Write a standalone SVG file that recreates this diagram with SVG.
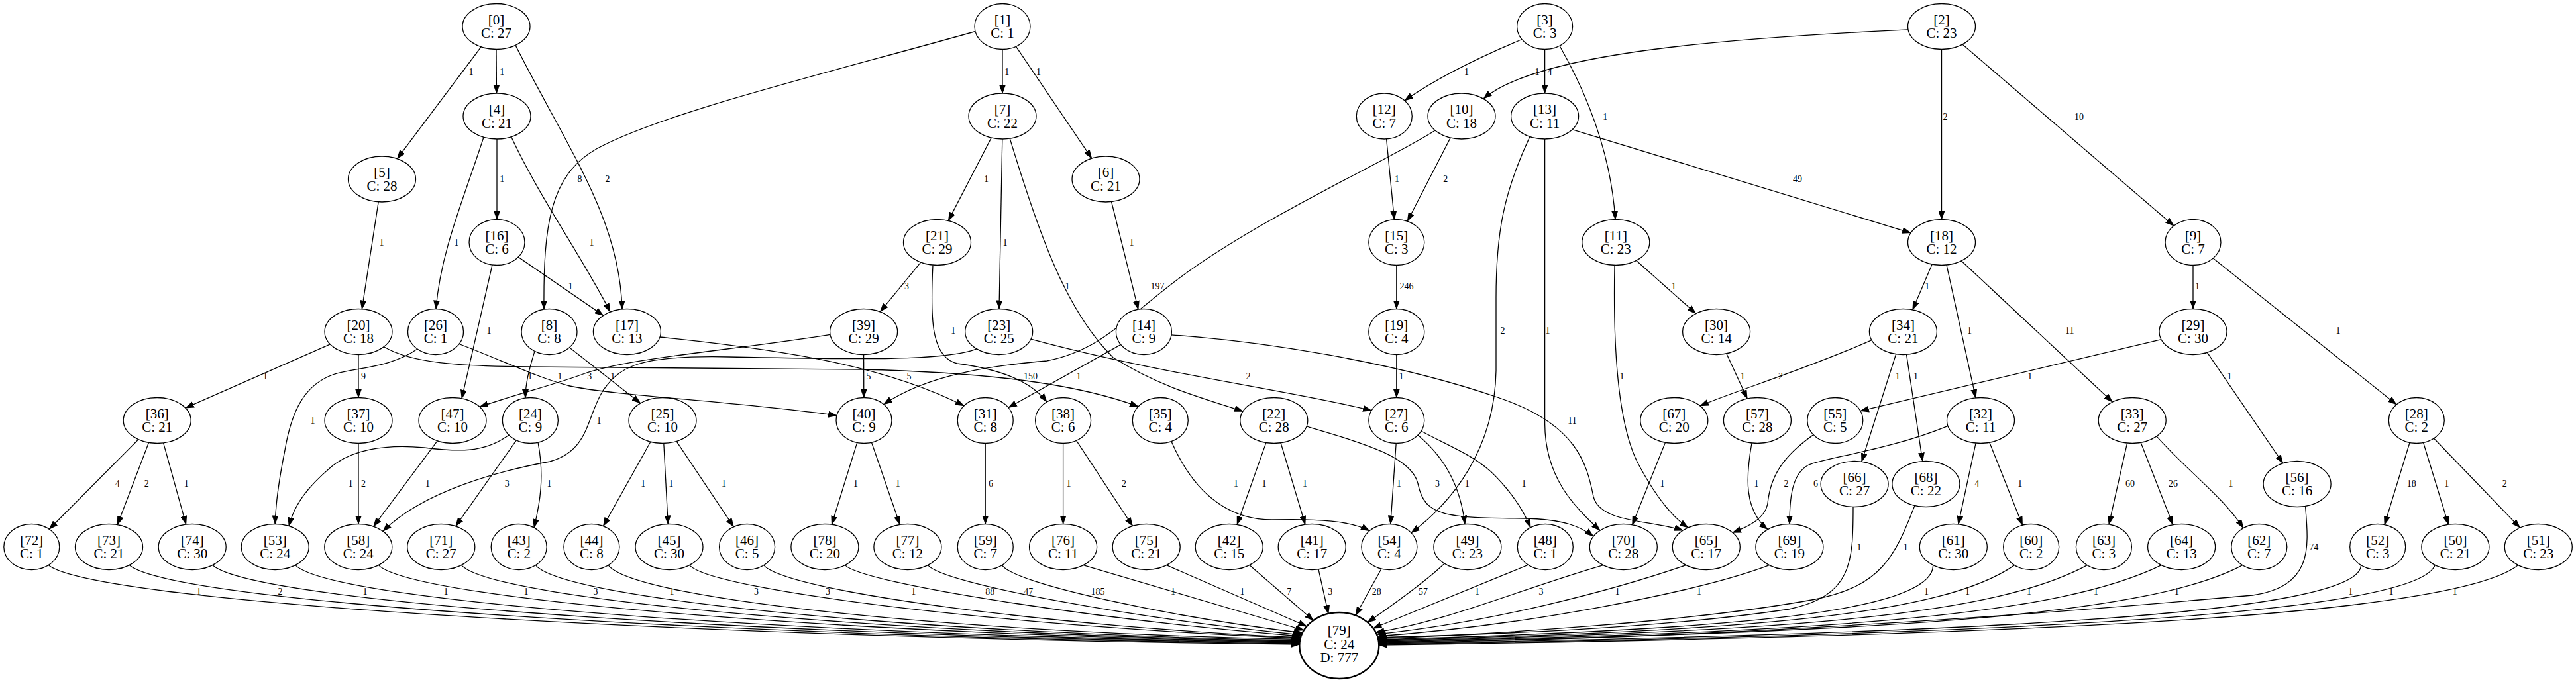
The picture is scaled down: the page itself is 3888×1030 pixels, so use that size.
<svg xmlns="http://www.w3.org/2000/svg" width="3888" height="1030" viewBox="0 0 3888 1030">
<defs>
<marker id="arr" markerUnits="userSpaceOnUse" markerWidth="14" markerHeight="10" refX="13" refY="5" orient="auto"><path d="M0,0 L14,5 L0,10 z" fill="#000"/></marker>
<style>
.n ellipse{fill:#fff;stroke:#000;stroke-width:1.3}
.n text{font-family:"Liberation Serif","Times New Roman",serif;font-size:21px;text-anchor:middle;fill:#000;opacity:0.999}
#edges path{fill:none;stroke:#000;stroke-width:1.3;marker-end:url(#arr)}
#edges text{font-family:"Liberation Serif","Times New Roman",serif;font-size:14px;text-anchor:middle;fill:#000;opacity:0.999}
</style>
</defs>
<rect width="3888" height="1030" fill="#fff"/>
<g id="edges">
<g id="e0_5"><path d="M726,71 L599.5,239.7"/><text x="711" y="113">1</text></g>
<g id="e0_4"><path d="M749,74.5 L749.5,141"/><text x="757.7" y="113">1</text></g>
<g id="e0_17"><path d="M778,68.4 C860,230 935,330 939,467"/><text x="917" y="275">2</text></g>
<g id="e1_8"><path d="M1472,47.5 C1250,110 1000,170 900,225 C830,265 820,340 821,467"/><text x="875" y="275">8</text></g>
<g id="e1_7"><path d="M1513,74.5 L1513,141"/><text x="1519.8" y="113">1</text></g>
<g id="e1_6"><path d="M1533.4,70.2 L1647.7,239.1"/><text x="1567.6" y="113">1</text></g>
<g id="e3_12"><path d="M2297,59.5 C2260,75 2180,110 2120,152"/><text x="2213.6" y="113">1</text></g>
<g id="e3_13"><path d="M2331.6,74.5 L2331.6,141"/><text x="2339" y="113">4</text></g>
<g id="e3_11"><path d="M2354,69.2 C2400,150 2432,240 2438,331.5"/><text x="2422.8" y="180.6">1</text></g>
<g id="e2_10"><path d="M2880,44.8 C2600,58 2320,80 2239,149.2"/><text x="2320" y="113">1</text></g>
<g id="e2_18"><path d="M2930.5,74.5 L2930.5,331.5"/><text x="2936" y="180.6">2</text></g>
<g id="e2_9"><path d="M2962,67.1 L3281,341.1"/><text x="3138" y="180.6">10</text></g>
<g id="e4_16"><path d="M750,210 L750,331.5"/><text x="757.7" y="275">1</text></g>
<g id="e4_26"><path d="M730,207.2 C700,300 665,380 658,466.5"/><text x="689" y="371">1</text></g>
<g id="e4_17"><path d="M771.7,206.7 C815,300 880,390 921,471"/><text x="893" y="371">1</text></g>
<g id="e7_21"><path d="M1496.2,208.1 L1431.3,333.4"/><text x="1488.5" y="275">1</text></g>
<g id="e7_23"><path d="M1512.8,210 L1508,466.5"/><text x="1517" y="371">1</text></g>
<g id="e7_22"><path d="M1524.2,209.2 C1570,360 1610,470 1680,540 C1760,590 1830,605 1876,621.3"/><text x="1611" y="437">1</text></g>
<g id="e6_14"><path d="M1677.5,304.5 L1718,467.2"/><text x="1708" y="371">1</text></g>
<g id="e12_15"><path d="M2092.6,209.9 L2104.5,331.6"/><text x="2108.4" y="275">1</text></g>
<g id="e10_15"><path d="M2189.2,208.1 L2124.2,334.2"/><text x="2181.8" y="275">2</text></g>
<g id="e10_40"><path d="M2166,197 C2100,240 1900,330 1780,420 C1700,480 1660,530 1580,545 C1500,552 1400,565 1334,610.8"/><text x="1747" y="437">197</text></g>
<g id="e13_18"><path d="M2373,195.6 Q2520,240 2884,351.8"/><text x="2713" y="275">49</text></g>
<g id="e13_54"><path d="M2309,206.4 C2270,290 2258,350 2258,450 L2258,560 C2256,680 2190,760 2130,804.7"/><text x="2268" y="504">2</text></g>
<g id="e13_70"><path d="M2331.6,210 L2331.6,640 C2332,720 2375,765 2415,801"/><text x="2336" y="504">1</text></g>
<g id="e5_20"><path d="M571.2,304.8 L546.3,466.7"/><text x="576" y="371">1</text></g>
<g id="e16_17"><path d="M782.2,388.1 L910.6,476.4"/><text x="861" y="437">1</text></g>
<g id="e16_47"><path d="M743,400 L697,601.8"/><text x="738" y="504">1</text></g>
<g id="e21_39"><path d="M1389.7,396.2 L1328.4,470.8"/><text x="1368.6" y="437">3</text></g>
<g id="e21_38"><path d="M1408,400.3 C1404,480 1405,540 1445,549 C1510,558 1555,575 1580,607"/><text x="1438.8" y="504">1</text></g>
<g id="e15_19"><path d="M2107.8,400.5 L2107.8,466.5"/><text x="2123" y="437">246</text></g>
<g id="e11_30"><path d="M2469.7,393.5 L2559.7,473.5"/><text x="2526" y="437">1</text></g>
<g id="e11_65"><path d="M2437,400.5 C2435,500 2438,640 2475,705 C2505,760 2530,785 2548,796.9"/><text x="2448" y="572.6">1</text></g>
<g id="e18_34"><path d="M2916.2,399.1 L2886.7,467.9"/><text x="2908.8" y="437">1</text></g>
<g id="e18_32"><path d="M2938,400.1 L2982,600.9"/><text x="2972.6" y="504">1</text></g>
<g id="e18_33"><path d="M2960.4,394 L3188.3,607"/><text x="3123.7" y="504">11</text></g>
<g id="e9_29"><path d="M3310,400.5 L3310,466.5"/><text x="3316.5" y="437">1</text></g>
<g id="e9_28"><path d="M3340.2,390 L3617.1,611"/><text x="3529" y="504">1</text></g>
<g id="e20_36"><path d="M498.3,519.8 L279.9,616.2"/><text x="400.5" y="572.6">1</text></g>
<g id="e20_37"><path d="M541,535.5 L541,600.5"/><text x="548.5" y="572.6">9</text></g>
<g id="e20_35"><path d="M579.4,523.7 C620,548 690,553 800,554 L1300,558 C1520,563 1640,585 1718,614"/><text x="1555.5" y="572.6">150</text></g>
<g id="e26_40"><path d="M693,519.5 C760,545 810,570 860,583 C930,598 1100,605 1263,627.5"/><text x="845" y="572.6">1</text></g>
<g id="e26_53"><path d="M630,527 C590,555 540,555 505,565 C460,580 440,620 430,680 C420,730 416,760 415.2,791.5"/><text x="472" y="639.5">1</text></g>
<g id="e8_24"><path d="M807,530.4 C798,560 793,580 793,601"/><text x="800" y="572.6">1</text></g>
<g id="e8_25"><path d="M859.4,524.8 L966.7,608.9"/><text x="924.7" y="572.6">1</text></g>
<g id="e17_31"><path d="M996,509 C1200,530 1340,555 1455,612.9"/><text x="1372" y="572.6">5</text></g>
<g id="e39_47"><path d="M1253,505.3 C1100,530 950,540 880,565 C840,580 780,595 724,614.5"/><text x="889.7" y="572.6">3</text></g>
<g id="e39_40"><path d="M1303.6,535.5 L1303.8,600.5"/><text x="1311" y="572.6">5</text></g>
<g id="e23_58"><path d="M1474,526.9 C1430,545 1300,543 1100,539 C960,536 935,555 910,590 C885,630 890,680 830,697 C760,710 640,740 578,802.4"/><text x="904" y="639.5">1</text></g>
<g id="e23_27"><path d="M1556,512.1 C1750,565 1950,590 2070,620"/><text x="1884" y="572.6">2</text></g>
<g id="e14_31"><path d="M1691.7,520.4 L1521.9,615.6"/><text x="1628" y="572.6">1</text></g>
<g id="e14_65"><path d="M1768,505.8 C1900,515 2100,545 2260,600 C2380,640 2395,700 2405,750 C2415,790 2490,785 2540,801.1"/><text x="2373" y="639.5">11</text></g>
<g id="e19_27"><path d="M2107.8,535.5 L2107.8,600.5"/><text x="2115" y="572.6">1</text></g>
<g id="e30_57"><path d="M2605.8,533.9 L2637.2,602.1"/><text x="2630" y="572.6">1</text></g>
<g id="e34_67"><path d="M2825,513.7 C2720,560 2620,590 2566,612.9"/><text x="2687.5" y="572.6">2</text></g>
<g id="e34_66"><path d="M2861.7,534.7 L2809.8,697.3"/><text x="2864" y="572.6">1</text></g>
<g id="e34_68"><path d="M2877.5,535.3 L2901.8,696.7"/><text x="2891.6" y="572.6">1</text></g>
<g id="e29_55"><path d="M3262,512.7 L2808,620.6"/><text x="3063.8" y="572.6">1</text></g>
<g id="e29_56"><path d="M3331.4,532.3 L3445.7,699.7"/><text x="3365" y="572.6">1</text></g>
<g id="e36_72"><path d="M208.8,663.7 L74.3,799.3"/><text x="177.3" y="735">4</text></g>
<g id="e36_73"><path d="M224.5,668.4 L177.2,792.6"/><text x="221.3" y="735">2</text></g>
<g id="e36_74"><path d="M246.6,668.9 L280.8,792.1"/><text x="281.3" y="735">1</text></g>
<g id="e37_58"><path d="M541,669.5 L541,791.5"/><text x="548.5" y="735">2</text></g>
<g id="e47_58"><path d="M660.1,665.8 L563.7,795.2"/><text x="645.4" y="735">1</text></g>
<g id="e24_53"><path d="M768,656.9 C730,685 690,682 640,676 C580,670 530,680 500,705 C465,735 445,760 436,794.5"/><text x="529.3" y="735">1</text></g>
<g id="e24_71"><path d="M779.4,664.9 L687.7,794.9"/><text x="765.3" y="735">3</text></g>
<g id="e24_43"><path d="M812,668.2 C822,720 815,760 806,797"/><text x="829" y="735">1</text></g>
<g id="e25_44"><path d="M981.9,667.3 L910.5,794.7"/><text x="970.7" y="735">1</text></g>
<g id="e25_45"><path d="M1001.8,669.5 L1008.2,791.5"/><text x="1012.8" y="735">1</text></g>
<g id="e25_46"><path d="M1021,666.4 L1107.4,795.7"/><text x="1092.5" y="735">1</text></g>
<g id="e40_78"><path d="M1293.7,668.4 L1255.3,792.2"/><text x="1291.5" y="735">1</text></g>
<g id="e40_77"><path d="M1315.5,668.2 L1358.3,792.4"/><text x="1355.2" y="735">1</text></g>
<g id="e31_59"><path d="M1487.2,669.5 L1487.2,791.5"/><text x="1495.5" y="735">6</text></g>
<g id="e38_76"><path d="M1604.6,669.5 L1604.6,791.5"/><text x="1612.9" y="735">1</text></g>
<g id="e38_75"><path d="M1624.6,665.4 L1709.5,794.5"/><text x="1696.4" y="735">2</text></g>
<g id="e35_54"><path d="M1768,666.7 C1800,740 1850,785 1920,785 C1990,783 2040,787 2067,801.8"/><text x="1865.4" y="735">1</text></g>
<g id="e22_42"><path d="M1910.9,668.6 L1867.1,792.4"/><text x="1908" y="735">1</text></g>
<g id="e22_41"><path d="M1933,668.8 L1970,792.2"/><text x="1969.4" y="735">1</text></g>
<g id="e22_70"><path d="M1972,644 C2060,670 2130,690 2140,730 C2150,780 2180,782 2300,783 C2360,784 2385,795 2405,810"/><text x="2169.6" y="735">3</text></g>
<g id="e27_54"><path d="M2107.2,669.5 L2098.8,791.5"/><text x="2111.6" y="735">1</text></g>
<g id="e27_49"><path d="M2140,657.1 C2185,695 2205,740 2211,791.6"/><text x="2214.3" y="735">1</text></g>
<g id="e27_48"><path d="M2145,651 C2190,675 2230,690 2258,720 C2285,748 2300,772 2310,796.8"/><text x="2300" y="735">1</text></g>
<g id="e67_70"><path d="M2513.5,668.3 L2463.6,792.7"/><text x="2509" y="735">1</text></g>
<g id="e57_69"><path d="M2644,669 C2635,720 2632,770 2668,799.6"/><text x="2651" y="735">1</text></g>
<g id="e55_65"><path d="M2737,656.6 C2690,690 2672,720 2668,760 C2665,782 2640,795 2615,804.3"/><text x="2696" y="735">2</text></g>
<g id="e32_69"><path d="M2940,643.3 C2850,680 2760,690 2730,702 C2705,715 2701,750 2701,791.5"/><text x="2740.6" y="735">6</text></g>
<g id="e32_61"><path d="M2982.1,669.1 L2955.7,791.9"/><text x="2983.8" y="735">4</text></g>
<g id="e32_60"><path d="M3002.8,668.3 L3052.6,793.2"/><text x="3048.7" y="735">1</text></g>
<g id="e33_63"><path d="M3210.6,669.1 L3183,792.1"/><text x="3215" y="735">60</text></g>
<g id="e33_64"><path d="M3231.2,668.4 L3279.6,792.6"/><text x="3280" y="735">26</text></g>
<g id="e33_62"><path d="M3255,658.9 C3300,710 3355,750 3386,797.6"/><text x="3367" y="735">1</text></g>
<g id="e28_52"><path d="M3637,668.5 L3599,792.5"/><text x="3639.8" y="735">18</text></g>
<g id="e28_50"><path d="M3657.6,668.5 L3695.5,792.2"/><text x="3692.7" y="735">1</text></g>
<g id="e28_51"><path d="M3673.4,662 L3803.5,797.1"/><text x="3780.3" y="735">2</text></g>
<g id="e72_79"><path d="M73,853.6 C148.5,913.6 1111.6,965 1961.4,973"/><text x="300" y="898">1</text></g>
<g id="e73_79"><path d="M195.1,853.6 C265.8,913.6 1166.6,964 1961.4,972"/><text x="423" y="898">2</text></g>
<g id="e74_79"><path d="M320.8,853.6 C386.4,913.6 1223.2,963 1961.5,971"/><text x="551" y="898">1</text></g>
<g id="e53_79"><path d="M445.8,853.6 C506.4,913.6 1279.5,962 1961.6,970"/><text x="673" y="898">1</text></g>
<g id="e58_79"><path d="M571.4,853.6 C627,908.6 1336.1,961 1961.7,969"/><text x="794" y="898">1</text></g>
<g id="e71_79"><path d="M696.4,853.6 C747,908.6 1392.4,960 1961.9,968"/><text x="899" y="898">3</text></g>
<g id="e43_79"><path d="M808.4,853.6 C854.5,908.6 1442.9,959 1962.1,967"/><text x="1014" y="898">1</text></g>
<g id="e44_79"><path d="M918.1,853.6 C959.9,908.6 1492.5,957.5 1962.4,965.5"/><text x="1141.6" y="898">3</text></g>
<g id="e45_79"><path d="M1040.6,853.6 C1077.5,893.6 1547.8,948 1962.7,964"/><text x="1249.4" y="898">3</text></g>
<g id="e46_79"><path d="M1152.8,853.6 C1185.2,893.6 1598.4,947 1963,963"/><text x="1378.8" y="898">1</text></g>
<g id="e78_79"><path d="M1275.5,853.6 C1303,881.6 1654,936 1963.7,961"/><text x="1494.3" y="898">88</text></g>
<g id="e77_79"><path d="M1400.5,853.6 C1423,881.6 1710.7,934 1964.5,959"/><text x="1552.3" y="898">47</text></g>
<g id="e59_79"><path d="M1512.4,853.6 C1530.5,881.6 1761.8,931 1965.8,956"/><text x="1656.9" y="898">185</text></g>
<g id="e76_79"><path d="M1635.2,853.6 L1968,952"/><text x="1770.4" y="898">1</text></g>
<g id="e75_79"><path d="M1760.8,853.6 L1972.4,946"/><text x="1875" y="898">1</text></g>
<g id="e42_79"><path d="M1885.8,853.6 L1982.3,937"/><text x="1945.8" y="898">7</text></g>
<g id="e41_79"><path d="M1990,859.8 L2005,927"/><text x="2007.7" y="898">3</text></g>
<g id="e54_79"><path d="M2085,859 L2046,929.5"/><text x="2077.8" y="898">28</text></g>
<g id="e49_79"><path d="M2180,851.2 C2150,880 2100,915 2064.1,940"/><text x="2148" y="898">57</text></g>
<g id="e48_79"><path d="M2306.5,853.2 L2072.5,949"/><text x="2229.6" y="898">1</text></g>
<g id="e70_79"><path d="M2419.7,853.6 C2300,888 2180,940 2076.3,955"/><text x="2326" y="898">3</text></g>
<g id="e65_79"><path d="M2544.7,853.6 C2430,893 2250,940 2077.7,958"/><text x="2441.3" y="898">1</text></g>
<g id="e69_79"><path d="M2670.3,853.6 C2560,895 2300,945 2078.9,961"/><text x="2564.4" y="898">1</text></g>
<g id="e66_79"><path d="M2797,765.5 C2797,850 2795,900 2700,920 C2500,950 2250,958 2079.5,963"/><text x="2806" y="831">1</text></g>
<g id="e68_79"><path d="M2890,763.6 C2860,840 2840,885 2740,905 C2550,940 2250,958 2080,964.5"/><text x="2876.3" y="831">1</text></g>
<g id="e61_79"><path d="M2917.7,853.6 C2917.7,928 2582.7,952 2080.3,966"/><text x="2907.5" y="898">1</text></g>
<g id="e60_79"><path d="M3040.5,853.6 C2932.6,928 2656.5,953 2080.6,967"/><text x="2969.4" y="898">1</text></g>
<g id="e63_79"><path d="M3150.2,853.6 C3012.2,928 2722.4,954 2080.8,968"/><text x="3062.6" y="898">1</text></g>
<g id="e64_79"><path d="M3262,853.6 C3109,928 2789.6,955 2081,969"/><text x="3163.4" y="898">1</text></g>
<g id="e62_79"><path d="M3384.6,853.6 C3245.3,928 2863.2,956 2081.1,970"/><text x="3285.6" y="898">1</text></g>
<g id="e56_79"><path d="M3479.7,766 C3485,830 3490,885 3400,899 C3250,912 3000,935 2600,955 C2400,965 2200,969 2081.1,971"/><text x="3492.3" y="831">74</text></g>
<g id="e52_79"><path d="M3563.5,853.6 C3563.5,928 2970.6,958 2081.2,972"/><text x="3547.8" y="898">1</text></g>
<g id="e50_79"><path d="M3675.3,853.6 C3645.8,928 3037.7,959 2081.3,973"/><text x="3608.9" y="898">1</text></g>
<g id="e51_79"><path d="M3800.7,853.6 C3707,928 3112.9,960 2081.3,974"/><text x="3705.3" y="898">1</text></g>
</g>
<g id="nodes">
<g id="n0" class="n"><ellipse cx="749" cy="40" rx="51" ry="34.5"/><text x="749" y="36.5">[0]</text><text x="749" y="57">C: 27</text></g>
<g id="n1" class="n"><ellipse cx="1513" cy="40" rx="42" ry="34.5"/><text x="1513" y="36.5">[1]</text><text x="1513" y="57">C: 1</text></g>
<g id="n3" class="n"><ellipse cx="2331.6" cy="40" rx="42" ry="34.5"/><text x="2331.6" y="36.5">[3]</text><text x="2331.6" y="57">C: 3</text></g>
<g id="n2" class="n"><ellipse cx="2930.5" cy="40" rx="51" ry="34.5"/><text x="2930.5" y="36.5">[2]</text><text x="2930.5" y="57">C: 23</text></g>
<g id="n4" class="n"><ellipse cx="750" cy="175.5" rx="51" ry="34.5"/><text x="750" y="172">[4]</text><text x="750" y="192.5">C: 21</text></g>
<g id="n7" class="n"><ellipse cx="1513" cy="175.5" rx="51" ry="34.5"/><text x="1513" y="172">[7]</text><text x="1513" y="192.5">C: 22</text></g>
<g id="n12" class="n"><ellipse cx="2089.3" cy="175.5" rx="42" ry="34.5"/><text x="2089.3" y="172">[12]</text><text x="2089.3" y="192.5">C: 7</text></g>
<g id="n10" class="n"><ellipse cx="2206" cy="175.5" rx="51" ry="34.5"/><text x="2206" y="172">[10]</text><text x="2206" y="192.5">C: 18</text></g>
<g id="n13" class="n"><ellipse cx="2331.6" cy="175.5" rx="51" ry="34.5"/><text x="2331.6" y="172">[13]</text><text x="2331.6" y="192.5">C: 11</text></g>
<g id="n5" class="n"><ellipse cx="576.5" cy="270.5" rx="51" ry="34.5"/><text x="576.5" y="267">[5]</text><text x="576.5" y="287.5">C: 28</text></g>
<g id="n6" class="n"><ellipse cx="1669" cy="270.5" rx="51" ry="34.5"/><text x="1669" y="267">[6]</text><text x="1669" y="287.5">C: 21</text></g>
<g id="n16" class="n"><ellipse cx="750" cy="366" rx="42" ry="34.5"/><text x="750" y="362.5">[16]</text><text x="750" y="383">C: 6</text></g>
<g id="n21" class="n"><ellipse cx="1414.5" cy="366" rx="51" ry="34.5"/><text x="1414.5" y="362.5">[21]</text><text x="1414.5" y="383">C: 29</text></g>
<g id="n15" class="n"><ellipse cx="2107.8" cy="366" rx="42" ry="34.5"/><text x="2107.8" y="362.5">[15]</text><text x="2107.8" y="383">C: 3</text></g>
<g id="n11" class="n"><ellipse cx="2438.8" cy="366" rx="51" ry="34.5"/><text x="2438.8" y="362.5">[11]</text><text x="2438.8" y="383">C: 23</text></g>
<g id="n18" class="n"><ellipse cx="2930.5" cy="366" rx="51" ry="34.5"/><text x="2930.5" y="362.5">[18]</text><text x="2930.5" y="383">C: 12</text></g>
<g id="n9" class="n"><ellipse cx="3310" cy="366" rx="42" ry="34.5"/><text x="3310" y="362.5">[9]</text><text x="3310" y="383">C: 7</text></g>
<g id="n20" class="n"><ellipse cx="541" cy="501" rx="51" ry="34.5"/><text x="541" y="497.5">[20]</text><text x="541" y="518">C: 18</text></g>
<g id="n26" class="n"><ellipse cx="657.5" cy="501" rx="42" ry="34.5"/><text x="657.5" y="497.5">[26]</text><text x="657.5" y="518">C: 1</text></g>
<g id="n8" class="n"><ellipse cx="829" cy="501" rx="42" ry="34.5"/><text x="829" y="497.5">[8]</text><text x="829" y="518">C: 8</text></g>
<g id="n17" class="n"><ellipse cx="946.4" cy="501" rx="51" ry="34.5"/><text x="946.4" y="497.5">[17]</text><text x="946.4" y="518">C: 13</text></g>
<g id="n39" class="n"><ellipse cx="1303.6" cy="501" rx="51" ry="34.5"/><text x="1303.6" y="497.5">[39]</text><text x="1303.6" y="518">C: 29</text></g>
<g id="n23" class="n"><ellipse cx="1507.7" cy="501" rx="51" ry="34.5"/><text x="1507.7" y="497.5">[23]</text><text x="1507.7" y="518">C: 25</text></g>
<g id="n14" class="n"><ellipse cx="1726.4" cy="501" rx="42" ry="34.5"/><text x="1726.4" y="497.5">[14]</text><text x="1726.4" y="518">C: 9</text></g>
<g id="n19" class="n"><ellipse cx="2107.8" cy="501" rx="42" ry="34.5"/><text x="2107.8" y="497.5">[19]</text><text x="2107.8" y="518">C: 4</text></g>
<g id="n30" class="n"><ellipse cx="2590.6" cy="501" rx="51" ry="34.5"/><text x="2590.6" y="497.5">[30]</text><text x="2590.6" y="518">C: 14</text></g>
<g id="n34" class="n"><ellipse cx="2872.4" cy="501" rx="51" ry="34.5"/><text x="2872.4" y="497.5">[34]</text><text x="2872.4" y="518">C: 21</text></g>
<g id="n29" class="n"><ellipse cx="3310" cy="501" rx="51" ry="34.5"/><text x="3310" y="497.5">[29]</text><text x="3310" y="518">C: 30</text></g>
<g id="n36" class="n"><ellipse cx="237.2" cy="635" rx="51" ry="34.5"/><text x="237.2" y="631.5">[36]</text><text x="237.2" y="652">C: 21</text></g>
<g id="n37" class="n"><ellipse cx="541" cy="635" rx="51" ry="34.5"/><text x="541" y="631.5">[37]</text><text x="541" y="652">C: 10</text></g>
<g id="n47" class="n"><ellipse cx="683" cy="635" rx="51" ry="34.5"/><text x="683" y="631.5">[47]</text><text x="683" y="652">C: 10</text></g>
<g id="n24" class="n"><ellipse cx="800.4" cy="635" rx="42" ry="34.5"/><text x="800.4" y="631.5">[24]</text><text x="800.4" y="652">C: 9</text></g>
<g id="n25" class="n"><ellipse cx="1000" cy="635" rx="51" ry="34.5"/><text x="1000" y="631.5">[25]</text><text x="1000" y="652">C: 10</text></g>
<g id="n40" class="n"><ellipse cx="1304" cy="635" rx="42" ry="34.5"/><text x="1304" y="631.5">[40]</text><text x="1304" y="652">C: 9</text></g>
<g id="n31" class="n"><ellipse cx="1487.2" cy="635" rx="42" ry="34.5"/><text x="1487.2" y="631.5">[31]</text><text x="1487.2" y="652">C: 8</text></g>
<g id="n38" class="n"><ellipse cx="1604.6" cy="635" rx="42" ry="34.5"/><text x="1604.6" y="631.5">[38]</text><text x="1604.6" y="652">C: 6</text></g>
<g id="n35" class="n"><ellipse cx="1751.3" cy="635" rx="42" ry="34.5"/><text x="1751.3" y="631.5">[35]</text><text x="1751.3" y="652">C: 4</text></g>
<g id="n22" class="n"><ellipse cx="1922.8" cy="635" rx="51" ry="34.5"/><text x="1922.8" y="631.5">[22]</text><text x="1922.8" y="652">C: 28</text></g>
<g id="n27" class="n"><ellipse cx="2107.8" cy="635" rx="42" ry="34.5"/><text x="2107.8" y="631.5">[27]</text><text x="2107.8" y="652">C: 6</text></g>
<g id="n67" class="n"><ellipse cx="2526.8" cy="635" rx="51" ry="34.5"/><text x="2526.8" y="631.5">[67]</text><text x="2526.8" y="652">C: 20</text></g>
<g id="n57" class="n"><ellipse cx="2652.4" cy="635" rx="51" ry="34.5"/><text x="2652.4" y="631.5">[57]</text><text x="2652.4" y="652">C: 28</text></g>
<g id="n55" class="n"><ellipse cx="2769.8" cy="635" rx="42" ry="34.5"/><text x="2769.8" y="631.5">[55]</text><text x="2769.8" y="652">C: 5</text></g>
<g id="n32" class="n"><ellipse cx="2989.5" cy="635" rx="51" ry="34.5"/><text x="2989.5" y="631.5">[32]</text><text x="2989.5" y="652">C: 11</text></g>
<g id="n33" class="n"><ellipse cx="3218.2" cy="635" rx="51" ry="34.5"/><text x="3218.2" y="631.5">[33]</text><text x="3218.2" y="652">C: 27</text></g>
<g id="n28" class="n"><ellipse cx="3647.3" cy="635" rx="42" ry="34.5"/><text x="3647.3" y="631.5">[28]</text><text x="3647.3" y="652">C: 2</text></g>
<g id="n66" class="n"><ellipse cx="2799.1" cy="731" rx="51" ry="34.5"/><text x="2799.1" y="727.5">[66]</text><text x="2799.1" y="748">C: 27</text></g>
<g id="n68" class="n"><ellipse cx="2906.9" cy="731" rx="51" ry="34.5"/><text x="2906.9" y="727.5">[68]</text><text x="2906.9" y="748">C: 22</text></g>
<g id="n56" class="n"><ellipse cx="3467.1" cy="731" rx="51" ry="34.5"/><text x="3467.1" y="727.5">[56]</text><text x="3467.1" y="748">C: 16</text></g>
<g id="n72" class="n"><ellipse cx="47.8" cy="826" rx="42" ry="34.5"/><text x="47.8" y="822.5">[72]</text><text x="47.8" y="843">C: 1</text></g>
<g id="n73" class="n"><ellipse cx="164.5" cy="826" rx="51" ry="34.5"/><text x="164.5" y="822.5">[73]</text><text x="164.5" y="843">C: 21</text></g>
<g id="n74" class="n"><ellipse cx="290.2" cy="826" rx="51" ry="34.5"/><text x="290.2" y="822.5">[74]</text><text x="290.2" y="843">C: 30</text></g>
<g id="n53" class="n"><ellipse cx="415.2" cy="826" rx="51" ry="34.5"/><text x="415.2" y="822.5">[53]</text><text x="415.2" y="843">C: 24</text></g>
<g id="n58" class="n"><ellipse cx="540.8" cy="826" rx="51" ry="34.5"/><text x="540.8" y="822.5">[58]</text><text x="540.8" y="843">C: 24</text></g>
<g id="n71" class="n"><ellipse cx="665.8" cy="826" rx="51" ry="34.5"/><text x="665.8" y="822.5">[71]</text><text x="665.8" y="843">C: 27</text></g>
<g id="n43" class="n"><ellipse cx="783.2" cy="826" rx="42" ry="34.5"/><text x="783.2" y="822.5">[43]</text><text x="783.2" y="843">C: 2</text></g>
<g id="n44" class="n"><ellipse cx="892.9" cy="826" rx="42" ry="34.5"/><text x="892.9" y="822.5">[44]</text><text x="892.9" y="843">C: 8</text></g>
<g id="n45" class="n"><ellipse cx="1010" cy="826" rx="51" ry="34.5"/><text x="1010" y="822.5">[45]</text><text x="1010" y="843">C: 30</text></g>
<g id="n46" class="n"><ellipse cx="1127.6" cy="826" rx="42" ry="34.5"/><text x="1127.6" y="822.5">[46]</text><text x="1127.6" y="843">C: 5</text></g>
<g id="n78" class="n"><ellipse cx="1244.9" cy="826" rx="51" ry="34.5"/><text x="1244.9" y="822.5">[78]</text><text x="1244.9" y="843">C: 20</text></g>
<g id="n77" class="n"><ellipse cx="1369.9" cy="826" rx="51" ry="34.5"/><text x="1369.9" y="822.5">[77]</text><text x="1369.9" y="843">C: 12</text></g>
<g id="n59" class="n"><ellipse cx="1487.2" cy="826" rx="42" ry="34.5"/><text x="1487.2" y="822.5">[59]</text><text x="1487.2" y="843">C: 7</text></g>
<g id="n76" class="n"><ellipse cx="1604.6" cy="826" rx="51" ry="34.5"/><text x="1604.6" y="822.5">[76]</text><text x="1604.6" y="843">C: 11</text></g>
<g id="n75" class="n"><ellipse cx="1730.2" cy="826" rx="51" ry="34.5"/><text x="1730.2" y="822.5">[75]</text><text x="1730.2" y="843">C: 21</text></g>
<g id="n42" class="n"><ellipse cx="1855.2" cy="826" rx="51" ry="34.5"/><text x="1855.2" y="822.5">[42]</text><text x="1855.2" y="843">C: 15</text></g>
<g id="n41" class="n"><ellipse cx="1980.2" cy="826" rx="51" ry="34.5"/><text x="1980.2" y="822.5">[41]</text><text x="1980.2" y="843">C: 17</text></g>
<g id="n54" class="n"><ellipse cx="2096.9" cy="826" rx="42" ry="34.5"/><text x="2096.9" y="822.5">[54]</text><text x="2096.9" y="843">C: 4</text></g>
<g id="n49" class="n"><ellipse cx="2214.9" cy="826" rx="51" ry="34.5"/><text x="2214.9" y="822.5">[49]</text><text x="2214.9" y="843">C: 23</text></g>
<g id="n48" class="n"><ellipse cx="2332.3" cy="826" rx="42" ry="34.5"/><text x="2332.3" y="822.5">[48]</text><text x="2332.3" y="843">C: 1</text></g>
<g id="n70" class="n"><ellipse cx="2450.3" cy="826" rx="51" ry="34.5"/><text x="2450.3" y="822.5">[70]</text><text x="2450.3" y="843">C: 28</text></g>
<g id="n65" class="n"><ellipse cx="2575.3" cy="826" rx="51" ry="34.5"/><text x="2575.3" y="822.5">[65]</text><text x="2575.3" y="843">C: 17</text></g>
<g id="n69" class="n"><ellipse cx="2700.9" cy="826" rx="51" ry="34.5"/><text x="2700.9" y="822.5">[69]</text><text x="2700.9" y="843">C: 19</text></g>
<g id="n61" class="n"><ellipse cx="2948.3" cy="826" rx="51" ry="34.5"/><text x="2948.3" y="822.5">[61]</text><text x="2948.3" y="843">C: 30</text></g>
<g id="n60" class="n"><ellipse cx="3065.7" cy="826" rx="42" ry="34.5"/><text x="3065.7" y="822.5">[60]</text><text x="3065.7" y="843">C: 2</text></g>
<g id="n63" class="n"><ellipse cx="3175.4" cy="826" rx="42" ry="34.5"/><text x="3175.4" y="822.5">[63]</text><text x="3175.4" y="843">C: 3</text></g>
<g id="n64" class="n"><ellipse cx="3292.6" cy="826" rx="51" ry="34.5"/><text x="3292.6" y="822.5">[64]</text><text x="3292.6" y="843">C: 13</text></g>
<g id="n62" class="n"><ellipse cx="3409.8" cy="826" rx="42" ry="34.5"/><text x="3409.8" y="822.5">[62]</text><text x="3409.8" y="843">C: 7</text></g>
<g id="n52" class="n"><ellipse cx="3588.7" cy="826" rx="42" ry="34.5"/><text x="3588.7" y="822.5">[52]</text><text x="3588.7" y="843">C: 3</text></g>
<g id="n50" class="n"><ellipse cx="3705.9" cy="826" rx="51" ry="34.5"/><text x="3705.9" y="822.5">[50]</text><text x="3705.9" y="843">C: 21</text></g>
<g id="n51" class="n"><ellipse cx="3831.3" cy="826" rx="51" ry="34.5"/><text x="3831.3" y="822.5">[51]</text><text x="3831.3" y="843">C: 23</text></g>
<g id="n79" class="n"><ellipse cx="2021.3" cy="975" rx="60" ry="50" style="stroke-width:2.4"/><text x="2021.3" y="959">[79]</text><text x="2021.3" y="980">C: 24</text><text x="2021.3" y="1000">D: 777</text></g>
</g>
</svg>
